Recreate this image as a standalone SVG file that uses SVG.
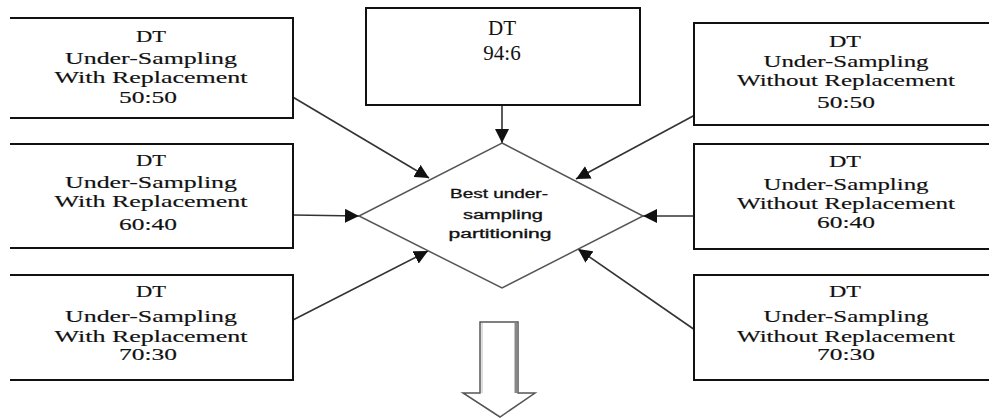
<svg xmlns="http://www.w3.org/2000/svg" width="989" height="419" viewBox="0 0 989 419">
  <style>
    .box { fill: #fff; stroke: #111; stroke-width: 2; }
    .lbl { font-family: "Liberation Serif", "Times New Roman", serif; font-size: 16px; fill: #111; stroke: #111; stroke-width: 0.15; text-anchor: middle; }
    .big { font-family: "Liberation Serif", "Times New Roman", serif; font-size: 21px; fill: #111; text-anchor: middle; }
    .dia { fill: #fff; stroke: #555; stroke-width: 1.5; }
    .small { font-family: "Liberation Sans", Arial, sans-serif; font-size: 12px; fill: #111; stroke: #111; stroke-width: 0.3; text-anchor: middle; }
    .edge { stroke: #333; stroke-width: 1.6; fill: none; marker-end: url(#head); }
  </style>
  <defs>
    <marker id="head" markerUnits="userSpaceOnUse" markerWidth="16" markerHeight="14" refX="14" refY="7" orient="auto">
      <path d="M0,0 L14,7 L0,14 z" fill="#111"/>
    </marker>
  </defs>
  <rect width="989" height="419" fill="#fff"/>

  <!-- connectors -->
  <g id="connectors">
    <line class="edge" x1="502" y1="105" x2="502" y2="143"/>
    <line class="edge" x1="291" y1="96" x2="429" y2="178"/>
    <line class="edge" x1="293" y1="215" x2="359" y2="216"/>
    <line class="edge" x1="291" y1="321" x2="428" y2="251"/>
    <line class="edge" x1="695" y1="115" x2="576" y2="179"/>
    <line class="edge" x1="695" y1="216" x2="643" y2="216"/>
    <line class="edge" x1="695" y1="330" x2="578" y2="249"/>
  </g>

  <!-- decision -->
  <g id="decision">
    <polygon class="dia" points="502,143 643,216 502,288 359,216"/>
    <text class="small" x="499" y="198" textLength="98" lengthAdjust="spacingAndGlyphs">Best under-</text>
    <text class="small" x="503" y="219" textLength="80" lengthAdjust="spacingAndGlyphs">sampling</text>
    <text class="small" x="500" y="238" textLength="103" lengthAdjust="spacingAndGlyphs">partitioning</text>
  </g>

  <!-- source -->
  <g id="dt-94-6">
    <rect class="box" x="366" y="8" width="274" height="97"/>
    <text class="big" x="502" y="35">DT</text>
    <text class="big" x="502" y="60">94:6</text>
  </g>

  <!-- with replacement -->
  <g id="wr-50-50">
    <path class="box" d="M10,18 H293 V118 H10"/>
    <text class="lbl" x="151" y="42" textLength="30" lengthAdjust="spacingAndGlyphs">DT</text>
    <text class="lbl" x="151" y="64" textLength="172" lengthAdjust="spacingAndGlyphs">Under-Sampling</text>
    <text class="lbl" x="151" y="83" textLength="193" lengthAdjust="spacingAndGlyphs">With Replacement</text>
    <text class="lbl" x="148" y="103" textLength="58" lengthAdjust="spacingAndGlyphs">50:50</text>
  </g>
  <g id="wr-60-40">
    <path class="box" d="M10,144 H293 V248 H10"/>
    <text class="lbl" x="151" y="166" textLength="30" lengthAdjust="spacingAndGlyphs">DT</text>
    <text class="lbl" x="151" y="188" textLength="172" lengthAdjust="spacingAndGlyphs">Under-Sampling</text>
    <text class="lbl" x="151" y="207" textLength="193" lengthAdjust="spacingAndGlyphs">With Replacement</text>
    <text class="lbl" x="148" y="230" textLength="58" lengthAdjust="spacingAndGlyphs">60:40</text>
  </g>
  <g id="wr-70-30">
    <path class="box" d="M10,275 H293 V380 H10"/>
    <text class="lbl" x="151" y="297" textLength="30" lengthAdjust="spacingAndGlyphs">DT</text>
    <text class="lbl" x="151" y="322" textLength="172" lengthAdjust="spacingAndGlyphs">Under-Sampling</text>
    <text class="lbl" x="151" y="342" textLength="193" lengthAdjust="spacingAndGlyphs">With Replacement</text>
    <text class="lbl" x="148" y="360" textLength="58" lengthAdjust="spacingAndGlyphs">70:30</text>
  </g>

  <!-- without replacement -->
  <g id="wor-50-50">
    <path class="box" d="M995,23 H694 V125 H995"/>
    <text class="lbl" x="845" y="47" textLength="32" lengthAdjust="spacingAndGlyphs">DT</text>
    <text class="lbl" x="846" y="67" textLength="165" lengthAdjust="spacingAndGlyphs">Under-Sampling</text>
    <text class="lbl" x="846" y="86" textLength="218" lengthAdjust="spacingAndGlyphs">Without Replacement</text>
    <text class="lbl" x="846" y="108" textLength="58" lengthAdjust="spacingAndGlyphs">50:50</text>
  </g>
  <g id="wor-60-40">
    <path class="box" d="M995,144 H694 V249 H995"/>
    <text class="lbl" x="845" y="167" textLength="32" lengthAdjust="spacingAndGlyphs">DT</text>
    <text class="lbl" x="846" y="190" textLength="165" lengthAdjust="spacingAndGlyphs">Under-Sampling</text>
    <text class="lbl" x="846" y="209" textLength="218" lengthAdjust="spacingAndGlyphs">Without Replacement</text>
    <text class="lbl" x="846" y="228" textLength="58" lengthAdjust="spacingAndGlyphs">60:40</text>
  </g>
  <g id="wor-70-30">
    <path class="box" d="M995,275 H694 V380 H995"/>
    <text class="lbl" x="845" y="297" textLength="32" lengthAdjust="spacingAndGlyphs">DT</text>
    <text class="lbl" x="846" y="322" textLength="165" lengthAdjust="spacingAndGlyphs">Under-Sampling</text>
    <text class="lbl" x="846" y="342" textLength="218" lengthAdjust="spacingAndGlyphs">Without Replacement</text>
    <text class="lbl" x="846" y="360" textLength="58" lengthAdjust="spacingAndGlyphs">70:30</text>
  </g>

  <!-- result block arrow -->
  <g id="result-arrow">
    <polygon points="480,322 518,322 518,393 535,393 500,417 463,393 480,393" fill="#fff" stroke="#555" stroke-width="1.5"/>
    <line x1="516" y1="323" x2="516" y2="393" stroke="#888" stroke-width="3"/>
    <line x1="482" y1="323" x2="482" y2="393" stroke="#ddd" stroke-width="2"/>
  </g>
</svg>
